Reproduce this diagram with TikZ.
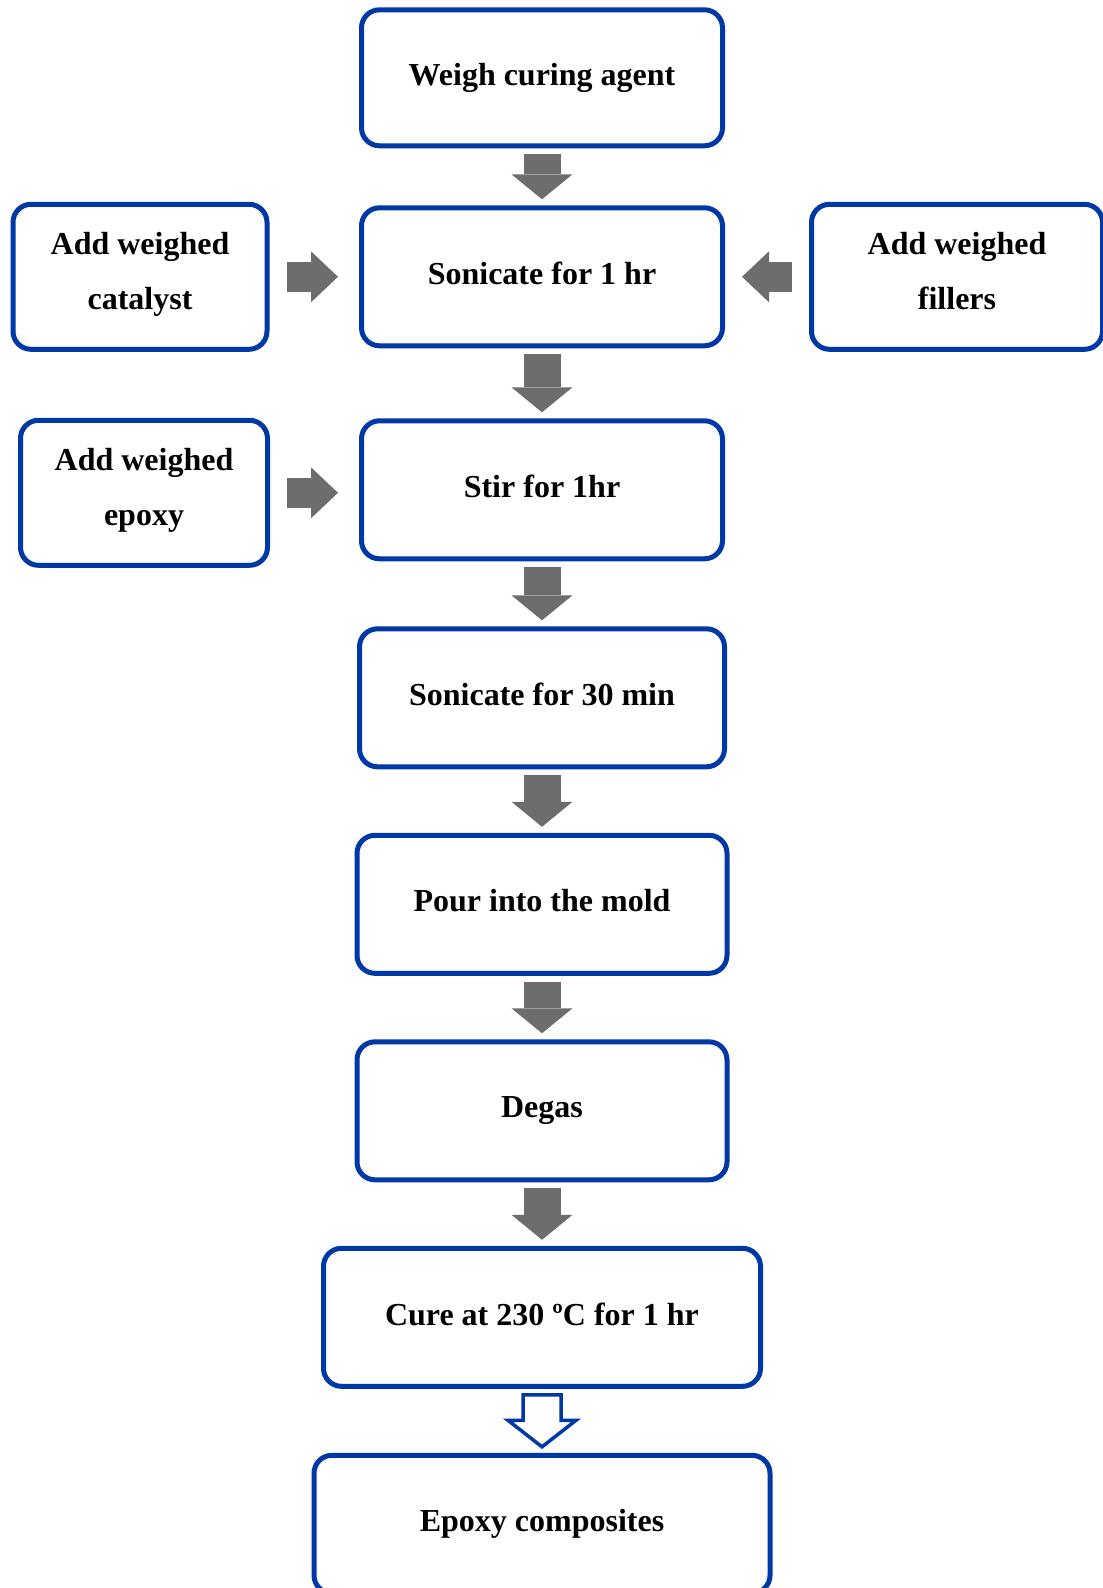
\documentclass[tikz,border=0pt]{standalone}
\usepackage{fontspec}
\setmainfont{Liberation Serif}
\usetikzlibrary{calc, arrows.meta, positioning}
\definecolor{boxblue}{RGB}{0,56,166}
\definecolor{arrowgray}{RGB}{109,109,109}

\begin{document}
\begin{tikzpicture}[
        x=1pt, y=1pt,
        node distance=63.5pt,
        every node/.style={align=center, font=\fontsize{32}{55}\selectfont\bfseries},
        stage/.style={draw=boxblue, line width=5pt, rounded corners=18pt, minimum width=361pt, minimum height=138pt, inner sep=0pt, text depth=7pt},
        addbox/.style={stage, minimum height=145pt, text depth=12pt},
        line/.style={arrowgray, line width=37pt, -{Triangle[length=25pt, width=61pt, line width=0pt]}},
        sideline/.style={arrowgray, line width=30pt, -{Triangle[length=27pt, width=51pt, line width=0pt]}},
        outline/.style={draw=boxblue, fill=white, line width=3.5pt, line join=miter},
    ]
    \useasboundingbox (0,0) rectangle (1103,-1588);
    % Nodes
    \node (weigh) [stage, minimum height=136pt] at (542,-77.8) {Weigh curing agent};
    \node (son1) [stage, below=57pt of weigh] {Sonicate for 1 hr};
    \node (stir) [stage, below=70pt of son1] {Stir for 1hr};
    \node (son2) [stage, below=65pt of stir, minimum width=365pt] {Sonicate for 30 min};
    \node (pour) [stage, below=of son2, minimum width=370pt] {Pour into the mold};
    \node (degas) [stage, below=of pour, minimum width=370pt] {Degas};
    \node (cure) [stage, below=of degas, minimum width=437pt] {Cure at 230 ºC for 1 hr};
    \node (result) [stage, below=64pt of cure, minimum width=456pt] {Epoxy composites};
    \node (catalyst) [addbox, left=89.5pt of son1, minimum width=254pt] {Add weighed\\catalyst};
    \node (fillers) [addbox, right=84pt of son1, minimum width=291pt] {Add weighed\\fillers};
    \node (epoxy) [addbox, left=89pt of stir, yshift=-3pt, minimum width=247pt] {Add weighed\\epoxy};
    % Arrows
    \draw[line] ([yshift=-6pt]weigh.south) -- ([yshift=6pt]son1.north);
    \draw[line] ([yshift=-6pt]son1.south) -- ([yshift=6pt]stir.north);
    \draw[line] ([yshift=-6pt]stir.south) -- ([yshift=6pt]son2.north);
    \draw[line] ([yshift=-6pt]son2.south) -- ([yshift=6pt]pour.north);
    \draw[line] ([yshift=-6pt]pour.south) -- ([yshift=6pt]degas.north);
    \draw[line] ([yshift=-6pt]degas.south) -- ([yshift=6pt]cure.north);
    \draw[sideline] ([xshift=17pt]catalyst.east) -- ([xshift=-21pt]son1.west);
    \draw[sideline] ([xshift=-17pt]fillers.west) -- ([xshift=17pt]son1.east);
    \draw[sideline] ([xshift=17pt]epoxy.east) -- ($(epoxy.east -| stir.west)+(-21pt,0)$);
    \draw[outline] let \p1=(cure.south), \p2=(result.north) in
        (\x1-19,\y1-6) -- (\x1+19,\y1-6) -- (\x1+19,\y2+32.5) -- (\x1+34,\y2+32.5)
        -- (\x1,\y2+6) -- (\x1-34,\y2+32.5) -- (\x1-19,\y2+32.5) -- cycle;
\end{tikzpicture}
\end{document}
